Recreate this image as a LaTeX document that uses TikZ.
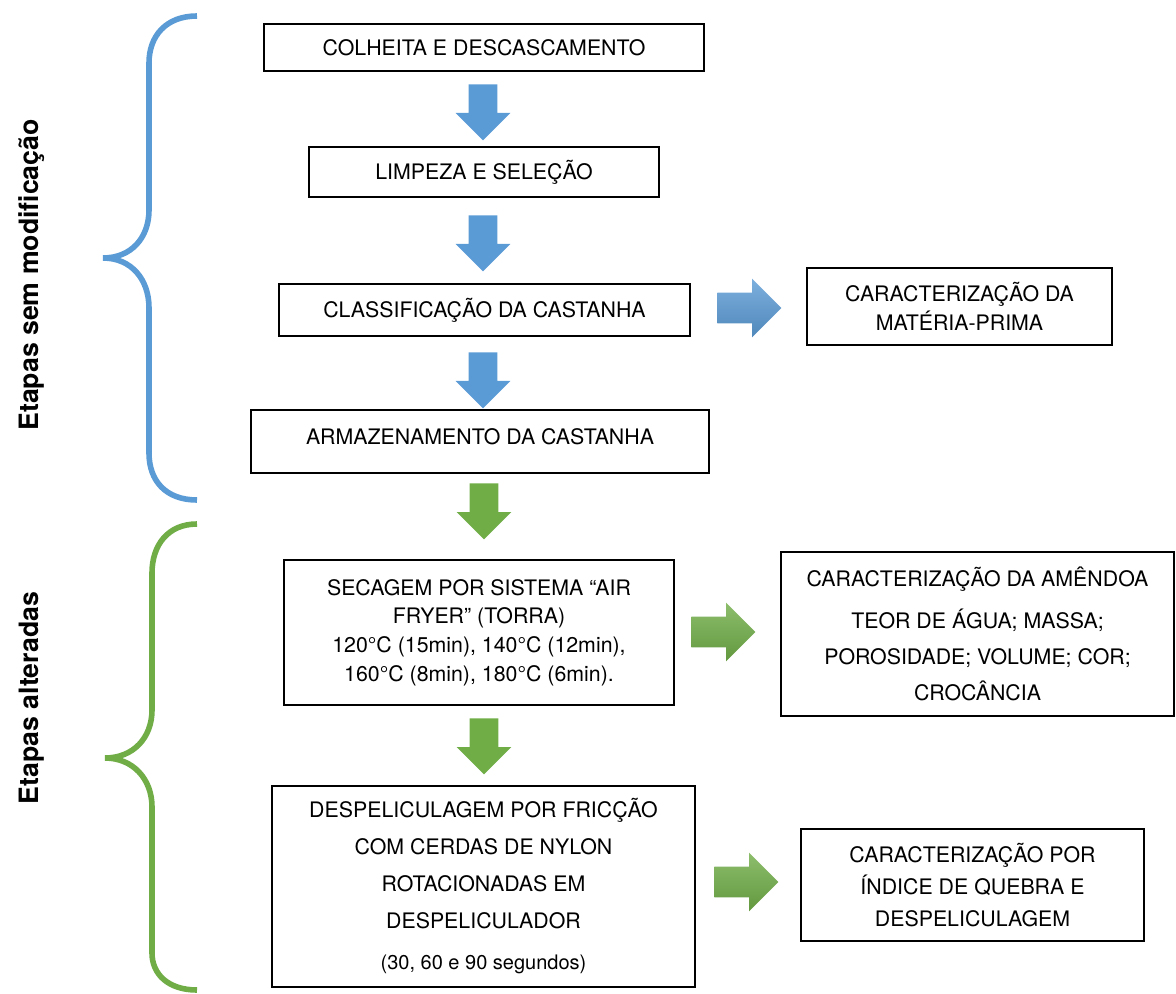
\documentclass[tikz,border=0pt]{standalone}
\usepackage{fontspec}
\setmainfont{TeX Gyre Heros}
\usepackage{xcolor}
\usetikzlibrary{
  shapes.arrows
}
\definecolor{stepblue}{HTML}{5B9BD5}
\definecolor{stepgreen}{HTML}{70AD47}

\begin{document}
\begin{tikzpicture}[x=0.75pt, y=-0.75pt,
  box/.style = {draw, line width=1.3pt, align=center, inner sep=0pt,
    font=\fontsize{16}{21.5}\selectfont},
  downarrow/.style = {shape=single arrow, rotate=-90, anchor=tail, draw=none,
    inner xsep=0pt, inner ysep=10.5pt, minimum height=42pt,
    single arrow head extend=9.75pt},
  rightarrow/.style = {shape=single arrow, anchor=tail, draw=none,
    inner xsep=0pt, inner ysep=11.25pt, minimum height=48pt,
    single arrow head extend=10.5pt},
  label/.style = {rotate=90, font=\fontsize{20}{24}\selectfont\bfseries}]
    \tikzstyle{brace}=[line width=4.2pt, line cap=butt]
  \useasboundingbox (0,0) rectangle (1176,994);

  % etapas sem modificacao
  \node[box, minimum width=330pt, minimum height=35.25pt] (colheita) at (484,47.5)
    {COLHEITA E DESCASCAMENTO};
  \node[box, minimum width=262.5pt, minimum height=37.5pt] (limpeza) at (484,172)
    {LIMPEZA E SELEÇÃO};
  \node[box, minimum width=308.25pt, minimum height=39pt] (classif) at (484.5,310)
    {CLASSIFICAÇÃO DA CASTANHA};
  \node[box, minimum width=343.5pt, minimum height=47.25pt,
    text height=11.5pt, text depth=6.8pt] (armaz) at (480,441.5)
    {ARMAZENAMENTO DA CASTANHA};
  \node[box, minimum width=228.75pt, minimum height=57.75pt] (materia) at (959.5,306.5)
    {CARACTERIZAÇÃO DA\\MATÉRIA-PRIMA};

  % etapas alteradas
  \node[box, minimum width=292.5pt, minimum height=108.75pt] (secagem) at (479,632.5)
    {SECAGEM POR SISTEMA “AIR\\FRYER” (TORRA)\\120°C (15min), 140°C (12min),\\160°C (8min), 180°C (6min).};
  \node[box, minimum width=294.75pt, minimum height=123pt,
    font=\fontsize{16}{27}\selectfont] (amendoa) at (977.5,634)
    {CARACTERIZAÇÃO DA AMÊNDOA\\[5pt]TEOR DE ÁGUA; MASSA;\\POROSIDADE; VOLUME; COR;\\CROCÂNCIA};
  \node[box, minimum width=317.25pt, minimum height=150.75pt,
    font=\fontsize{16}{27.75}\selectfont] (despel) at (483.5,886.5)
    {DESPELICULAGEM POR FRICÇÃO\\COM CERDAS DE NYLON\\ROTACIONADAS EM\\DESPELICULADOR\\[3pt]{\fontsize{15}{18}\selectfont (30, 60 e 90 segundos)}};
  \node[box, minimum width=257.25pt, minimum height=84pt,
    font=\fontsize{16}{24}\selectfont] (indice) at (972.5,885)
    {CARACTERIZAÇÃO POR\\ÍNDICE DE QUEBRA E\\DESPELICULAGEM};

  % setas
  \node[downarrow, fill=stepblue] (d1) at (483,84) {};
  \node[downarrow, fill=stepblue] (d2) at (483,215) {};
  \node[downarrow, fill=stepblue] (d3) at (483,352) {};
  \node[downarrow, fill=stepgreen] (d4) at (484,483) {};
  \node[downarrow, fill=stepgreen] (d5) at (484,718) {};
  \node[rightarrow, top color=stepblue!80!white, bottom color=stepblue!88!black] (r1) at (717,308) {};
  \node[rightarrow, top color=stepgreen!80!white, bottom color=stepgreen!88!black] (r2) at (691,632) {};
  \node[rightarrow, top color=stepgreen!80!white, bottom color=stepgreen!88!black] (r3) at (714,882) {};

  % chaves
  \draw[brace, stepblue] (197,16) .. controls (166,16) and (149,36) .. (149,63)
    -- (149,210) .. controls (149,238) and (131,258) .. (103,258)
    .. controls (131,258) and (149,279) .. (149,308)
    -- (149,453) .. controls (149,481) and (166,500) .. (197,500);
  \draw[brace, stepgreen] (197,524) .. controls (168,524) and (152,545) .. (152,573)
    -- (152,710) .. controls (152,738) and (133,758) .. (105,758)
    .. controls (133,758) and (152,779) .. (152,807)
    -- (152,953) .. controls (152,974) and (168,990) .. (197,990);

  \node[label] (etapa1) at (32,275) {Etapas sem modificação};
  \node[label] (etapa2) at (32,698) {Etapas alteradas};
\end{tikzpicture}
\end{document}
